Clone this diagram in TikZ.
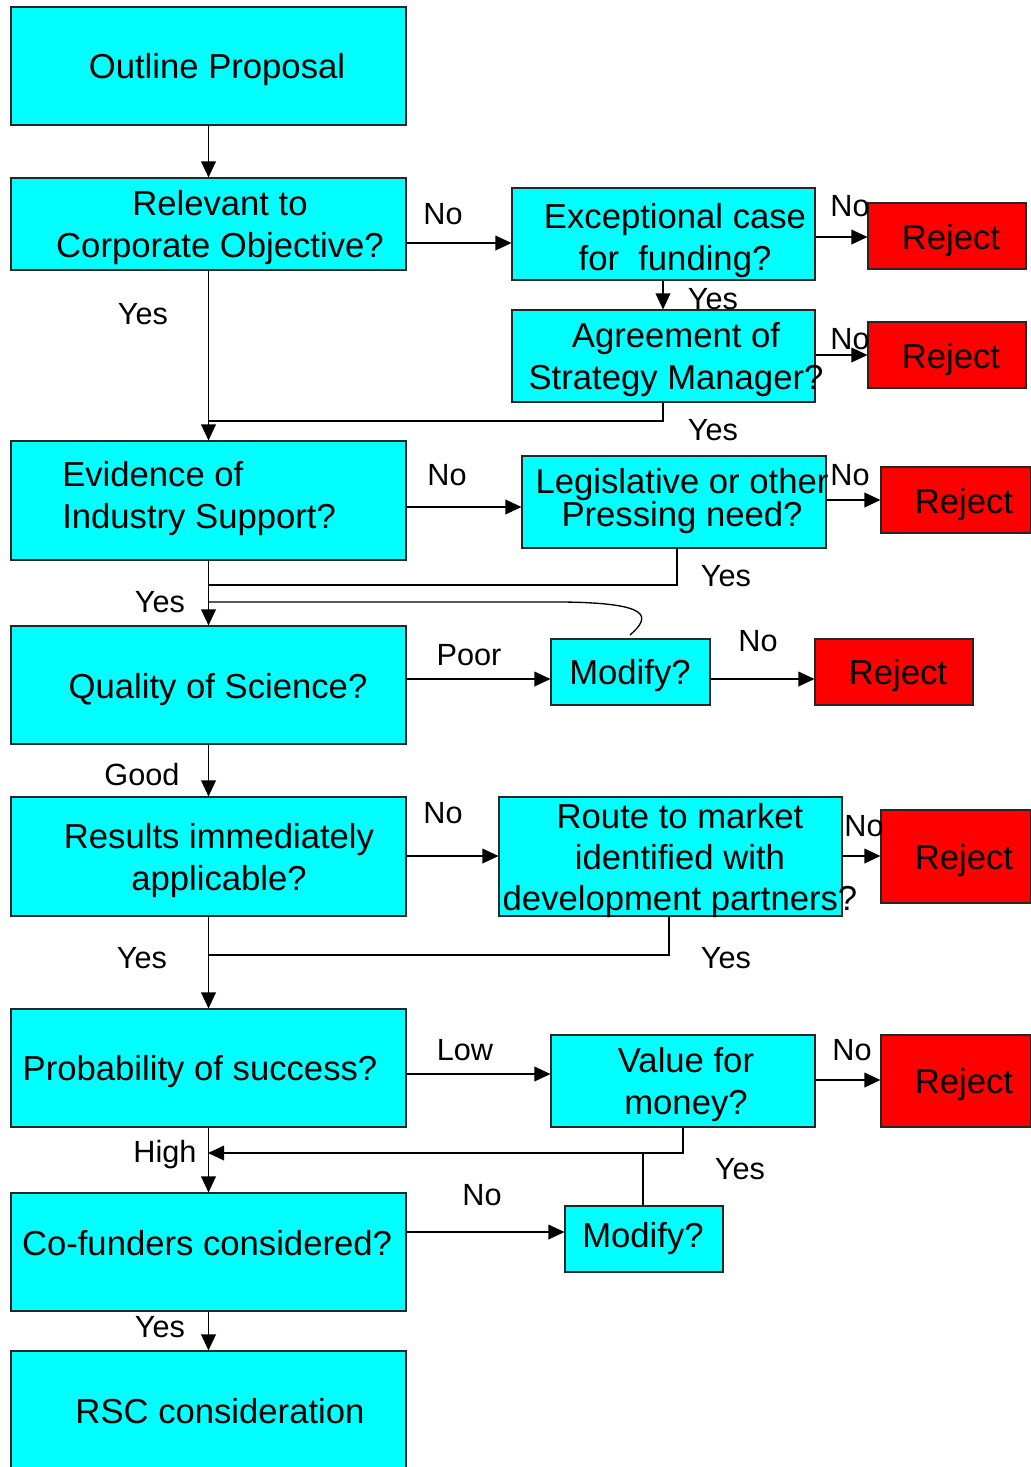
\documentclass[tikz,border=0pt]{standalone}
\usepackage{fontspec}
\setmainfont{Liberation Sans}
\usetikzlibrary{arrows.meta,fit}
\definecolor{boxcyan}{HTML}{00FFFF}
\definecolor{boxred}{HTML}{FF0000}
\tikzset{
  qbox/.style={draw=black!85, line width=0.8pt, fill=boxcyan, inner sep=0pt},
  rbox/.style={draw=black!85, line width=0.8pt, fill=boxred, inner sep=0pt},
  btxt/.style={inner sep=0pt, align=center, font=\fontsize{26}{31.5}\selectfont},
  lbl/.style={inner sep=0pt, font=\fontsize{23}{27}\selectfont},
  conn/.style={line width=1pt, draw=black},
  arr/.style={conn, -{Triangle[length=12pt,width=11pt]}}
}
\begin{document}
\begin{tikzpicture}[x=0.75pt,y=-0.75pt]
\useasboundingbox (0,0) rectangle (1031,1467);
\clip (0,0) rectangle (1031,1467);
% boxes
\node[qbox, fit={(11,7) (406,125)}] (op) {};
\node[qbox, fit={(11,178) (406,270)}] (rel) {};
\node[qbox, fit={(512,188) (815,280)}] (exc) {};
\node[rbox, fit={(868,203) (1026,269)}] (rj1) {};
\node[qbox, fit={(512,310) (815,402)}] (agr) {};
\node[rbox, fit={(868,322) (1026,388)}] (rj2) {};
\node[qbox, fit={(11,441) (406,560)}] (evi) {};
\node[qbox, fit={(522,456) (826,548)}] (leg) {};
\node[rbox, fit={(881,467) (1031,533)}] (rj3) {};
\node[qbox, fit={(11,626) (406,744)}] (qua) {};
\node[qbox, fit={(551,639) (710,705)}] (mod1) {};
\node[rbox, fit={(815,639) (973,705)}] (rj4) {};
\node[qbox, fit={(11,797) (406,916)}] (res) {};
\node[qbox, fit={(499,797) (842,916)}] (rou) {};
\node[rbox, fit={(881,810) (1031,903)}] (rj5) {};
\node[qbox, fit={(11,1009) (406,1127)}] (pro) {};
\node[qbox, fit={(551,1035) (815,1127)}] (val) {};
\node[rbox, fit={(881,1035) (1031,1127)}] (rj6) {};
\node[qbox, fit={(11,1193) (406,1311)}] (cof) {};
\node[qbox, fit={(565,1206) (723,1272)}] (mod2) {};
\node[qbox, fit={(11,1351) (406,1480)}] (rsc) {};
% box texts
\node[btxt] (t-op) at (217,70) {Outline Proposal};
\node[btxt] (t-rel) at (220,228) {Relevant to\\Corporate Objective?};
\node[btxt] (t-exc) at (675,241) {Exceptional case\\for\ \ funding?};
\node[btxt] (t-agr) at (676,360) {Agreement of\\Strategy Manager?};
\node[btxt] (t-rj1) at (951,241) {Reject};
\node[btxt] (t-rj2) at (951,360) {Reject};
\node[btxt, align=left, anchor=west] (t-evi) at (62,499) {Evidence of\\Industry Support?};
\node[btxt, font=\fontsize{26}{24.75}\selectfont] (t-leg) at (682,501) {Legislative or other\\Pressing need?};
\node[btxt] (t-rj3) at (964,505) {Reject};
\node[btxt] (t-qua) at (218,690) {Quality of Science?};
\node[btxt] (t-mod1) at (630,676) {Modify?};
\node[btxt] (t-rj4) at (898,676) {Reject};
\node[btxt] (t-res) at (219,861) {Results immediately\\applicable?};
\node[btxt, font=\fontsize{26}{30.75}\selectfont] (t-rou) at (680,861) {Route to market\\identified with\\development partners?};
\node[btxt] (t-rj5) at (964,861) {Reject};
\node[btxt] (t-pro) at (200,1072) {Probability of success?};
\node[btxt] (t-val) at (686,1085) {Value for\\money?};
\node[btxt] (t-rj6) at (964,1085) {Reject};
\node[btxt] (t-cof) at (207,1243) {Co-funders considered?};
\node[btxt] (t-mod2) at (643,1239) {Modify?};
\node[btxt] (t-rsc) at (220,1411) {RSC consideration};
% connectors
\draw[arr] (op.south) -- (rel.north);
\draw[arr] (rel.east |- 0,243) -- (exc.west |- 0,243);
\draw[arr] (rel.south) -- (evi.north);
\draw[arr] (exc.south -| 663,0) -- (agr.north -| 663,0);
\draw[arr] (exc.east |- 0,237) -- (rj1.west |- 0,237);
\draw[arr] (agr.east |- 0,355) -- (rj2.west |- 0,355);
\draw[conn] (agr.south -| 663,0) -- (663,421) -- (rel.south |- 0,421);
\draw[arr] (evi.east |- 0,507) -- (leg.west |- 0,507);
\draw[arr] (leg.east |- 0,500) -- (rj3.west |- 0,500);
\draw[conn] (leg.south -| 677,0) -- (677,585) -- (evi.south |- 0,585);
\draw[arr] (evi.south) -- (qua.north);
\coordinate (cv) at (630,635);
\draw[conn] (cv) .. controls (652,616) and (650,603) .. (563,602) -- (evi.south |- 0,602);
\draw[arr] (qua.east |- 0,679) -- (mod1.west |- 0,679);
\draw[arr] (mod1.east |- 0,679) -- (rj4.west |- 0,679);
\draw[arr] (qua.south) -- (res.north);
\draw[arr] (res.east |- 0,856) -- (rou.west |- 0,856);
\draw[arr] (rou.east |- 0,856) -- (rj5.west |- 0,856);
\draw[conn] (rou.south -| 669,0) -- (669,955) -- (res.south |- 0,955);
\draw[arr] (res.south) -- (pro.north);
\draw[arr] (pro.east |- 0,1074) -- (val.west |- 0,1074);
\draw[arr] (val.east |- 0,1080) -- (rj6.west |- 0,1080);
\coordinate (hj) at (208,1153);
\draw[arr] (val.south -| 683,0) -- (683,1153) -- (hj);
\draw[conn] (mod2.north -| 643,0) -- (643,1153);
\draw[arr] (pro.south) -- (cof.north);
\draw[arr] (cof.east |- 0,1232) -- (mod2.west |- 0,1232);
\draw[arr] (cof.south) -- (rsc.north);
% labels
\node[lbl] (l1) at (443,214) {No};
\node[lbl] (l2) at (143,314) {Yes};
\node[lbl] (l3) at (713,299) {Yes};
\node[lbl] (l4) at (850,206) {No};
\node[lbl] (l5) at (850,339) {No};
\node[lbl] (l6) at (713,430) {Yes};
\node[lbl] (l7) at (447,475) {No};
\node[lbl] (l8) at (850,475) {No};
\node[lbl] (l9) at (726,576) {Yes};
\node[lbl] (l10) at (160,602) {Yes};
\node[lbl] (l11) at (469,655) {Poor};
\node[lbl] (l12) at (758,641) {No};
\node[lbl] (l13) at (142,775) {Good};
\node[lbl] (l14) at (443,813) {No};
\node[lbl] (l15) at (864,826) {No};
\node[lbl] (l16) at (726,958) {Yes};
\node[lbl] (l17) at (142,958) {Yes};
\node[lbl] (l18) at (465,1050) {Low};
\node[lbl] (l19) at (852,1050) {No};
\node[lbl] (l20) at (740,1169) {Yes};
\node[lbl] (l21) at (165,1155) {High};
\node[lbl] (l22) at (482,1195) {No};
\node[lbl] (l23) at (160,1327) {Yes};
\end{tikzpicture}
\end{document}
